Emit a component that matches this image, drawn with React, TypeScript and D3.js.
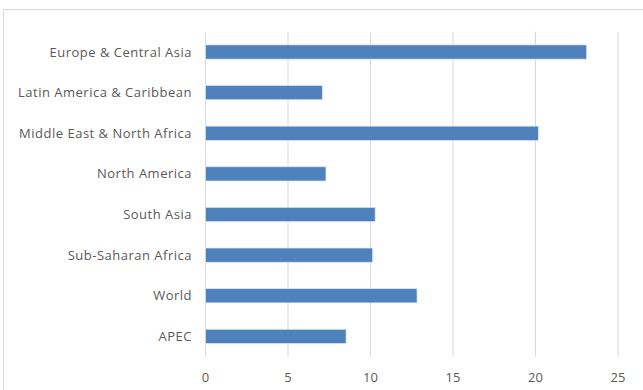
import React from "react";
import * as d3 from "d3";

const categories = [
  "Europe & Central Asia",
  "Latin America & Caribbean",
  "Middle East & North Africa",
  "North America",
  "South Asia",
  "Sub-Saharan Africa",
  "World",
  "APEC",
];
const values = [23.1, 7.08, 20.17, 7.3, 10.28, 10.13, 12.82, 8.52];
const xTicks = [0, 5, 10, 15, 20, 25];

export default function App() {
  const W = 643;
  const H = 390;
  const x = d3.scaleLinear().domain([0, 25]).range([205.5, 618]);
  const y = d3
    .scaleBand<string>()
    .domain(categories)
    .range([31.7, 356.7])
    .paddingInner(0.65)
    .paddingOuter(0.325);
  const font = "'Open Sans', 'Segoe UI', sans-serif";
  return (
    <svg
      width={W}
      height={H}
      style={{ position: "absolute", left: 0, top: 0, background: "#fff" }}
    >
      <rect x={3.5} y={9.5} width={W + 10} height={H + 10} fill="#fff" stroke="#d9d9d9" />
      {xTicks.map((t) => (
        <line
          key={t}
          x1={x(t)}
          x2={x(t)}
          y1={31.7}
          y2={356.7}
          stroke="#d9d9d9"
          strokeWidth={1}
        />
      ))}
      {categories.map((c, i) => (
        <rect
          key={c}
          x={x(0)}
          y={y(c)!}
          width={x(values[i]) - x(0)}
          height={y.bandwidth()}
          fill="#4f81bd"
          stroke="#dce6f2"
          strokeWidth={0.7}
        />
      ))}
      {categories.map((c) => (
        <text
          key={c}
          x={192}
          y={y(c)! + y.bandwidth() / 2}
          dy="0.35em"
          textAnchor="end"
          fontFamily={font}
          fontSize={13}
          letterSpacing={0.5}
          fill="#595959"
        >
          {c}
        </text>
      ))}
      {xTicks.map((t) => (
        <text
          key={t}
          x={x(t)}
          y={377}
          dy="0.35em"
          textAnchor="middle"
          fontFamily={font}
          fontSize={13}
          fill="#595959"
        >
          {t}
        </text>
      ))}
    </svg>
  );
}
